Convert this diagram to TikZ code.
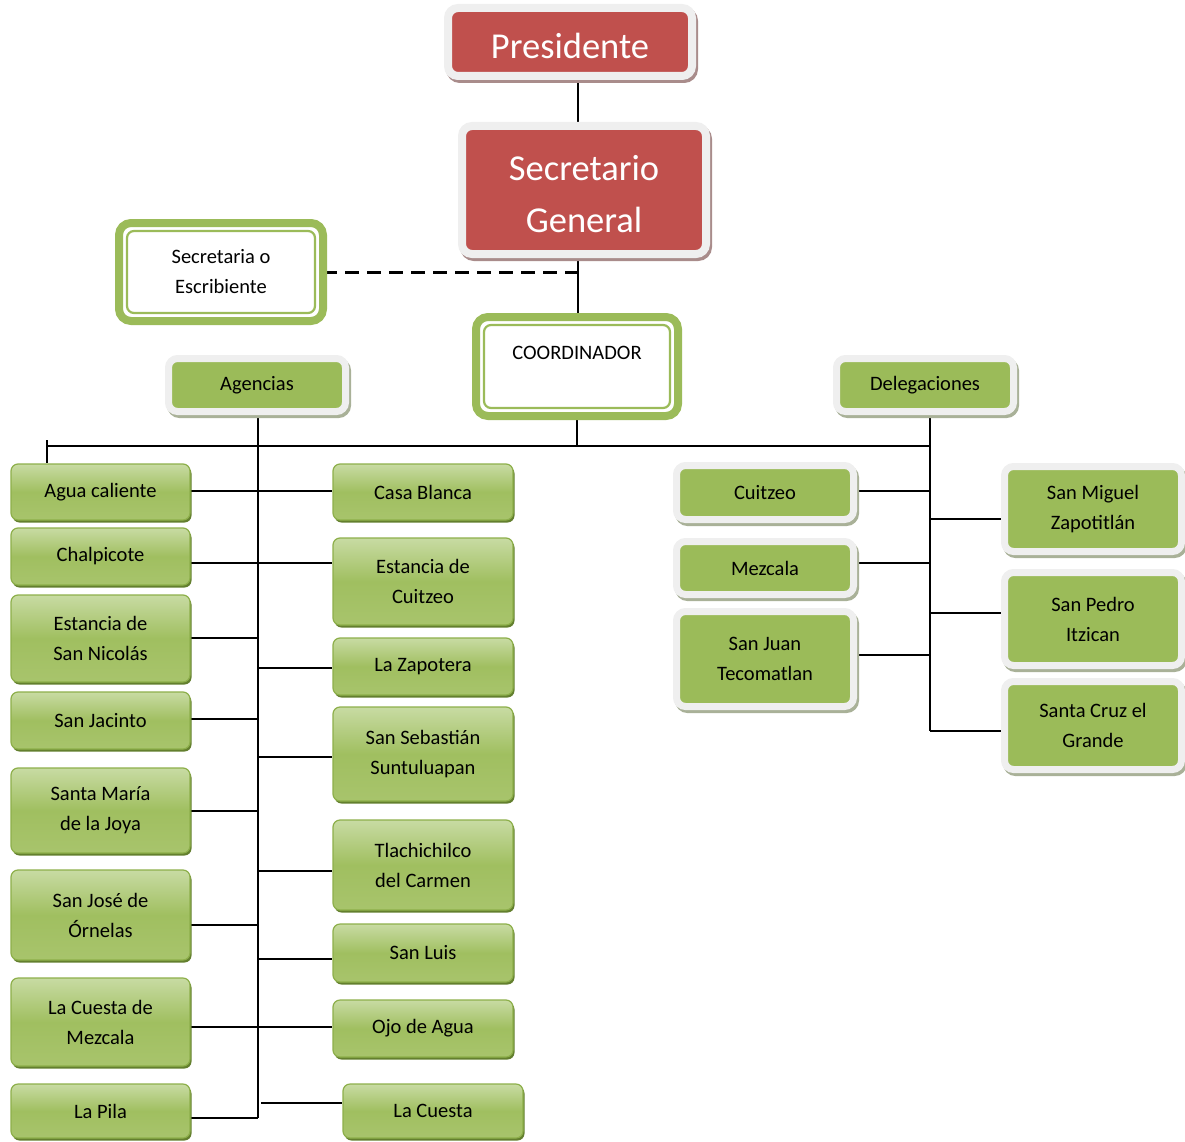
\documentclass[tikz,border=0pt]{standalone}
\usepackage{fontspec}
\setmainfont{Carlito}
\usetikzlibrary{shadows,backgrounds}

\definecolor{redfill}{HTML}{C0504D}
\definecolor{greenfill}{HTML}{9BBB59}
\definecolor{framec}{HTML}{EFEFEF}
\definecolor{rshadow}{HTML}{A98C8B}
\definecolor{lshadow}{HTML}{A9B198}
\definecolor{gtop}{HTML}{C8DBA3}
\definecolor{gmid}{HTML}{A0BF60}
\definecolor{gbot}{HTML}{A8C46C}
\definecolor{gbord}{HTML}{8DAF4A}
\definecolor{gshadow}{HTML}{637F2E}

\newcommand\bodyfont{\fontsize{20.5}{30}\selectfont}
\newcommand\bigfont{\fontsize{36.5}{52}\selectfont}

\tikzset{
  conn/.style={line width=1.5pt, black},
  gbox/.style={rounded corners=7pt, draw=gbord, line width=1.2pt,
    top color=gtop, bottom color=gbot, middle color=gmid,
    drop shadow={shadow xshift=1.5pt, shadow yshift=-2.5pt, fill=gshadow, opacity=1},
    align=center, inner sep=0pt, font=\bodyfont},
  fbox/.style={rounded corners=9pt, fill=greenfill, draw=framec, line width=7pt,
    preaction={draw=lshadow, line width=7pt, transform canvas={xshift=2pt,yshift=-3pt}},
    align=center, inner sep=0pt, font=\bodyfont, minimum width=177pt},
  rbox/.style={rounded corners=10pt, fill=redfill, draw=framec, line width=8pt,
    preaction={draw=rshadow, line width=8pt, transform canvas={xshift=2pt,yshift=-3pt}},
    inner sep=0pt, minimum width=244pt},
  bigtext/.style={align=center, inner sep=0pt, text=white, font=\bigfont},
  dbox/.style={rounded corners=12pt, fill=white, draw=greenfill, line width=8pt,
    outer sep=0pt, align=center, inner sep=0pt, font=\bodyfont},
  innerline/.style={draw=greenfill, line width=2.2pt, rounded corners=7pt},
  lcol/.style={gbox, minimum width=179pt},
  mcol/.style={gbox, minimum width=180pt},
}

\begin{document}
\begin{tikzpicture}[x=1pt,y=-1pt]
\useasboundingbox (0,0) rectangle (1185,1142);

% top of the chart
\node[rbox, minimum height=68pt] (pres) at (570,42) {};
\node[bigtext] (prest) at (570,46) {Presidente};
\node[rbox, minimum height=128pt] (secg) at (584,190) {};
\node[bigtext] (secgt) at (584,194) {Secretario\\General};

\node[dbox, minimum width=204pt, minimum height=98pt] (escr) at (221,272) {Secretaria o\\Escribiente};
\draw[innerline] ([shift={(8pt,8pt)}]escr.south west) rectangle ([shift={(-8pt,-8pt)}]escr.north east);

\node[dbox, minimum width=202pt, minimum height=99pt] (coord) at (577,366.5) {};
\draw[innerline] ([shift={(8pt,8pt)}]coord.south west) rectangle ([shift={(-8pt,-8pt)}]coord.north east);
\node[font=\bodyfont, inner sep=0pt] (coordt) at (577,353) {COORDINADOR};

\node[fbox, minimum height=53pt] (agen) at (257,385) {Agencias};
\node[fbox, minimum height=53pt] (dele) at (925,385) {Delegaciones};

% agencias, left column
\node[lcol, minimum height=56pt] (agua) at (100.5,492) {Agua caliente};
\node[lcol, minimum height=57pt] (chal) at (100.5,556.5) {Chalpicote};
\node[lcol, minimum height=87pt] (esn) at (100.5,638.5) {Estancia de\\San Nicolás};
\node[lcol, minimum height=57pt] (sjac) at (100.5,720.5) {San Jacinto};
\node[lcol, minimum height=85pt] (smar) at (100.5,810.5) {Santa María\\de la Joya};
\node[lcol, minimum height=90pt] (sjos) at (100.5,915) {San José de\\Órnelas};
\node[lcol, minimum height=88pt] (lcm) at (100.5,1022) {La Cuesta de\\Mezcala};
\node[lcol, minimum height=54pt] (pila) at (100.5,1111) {La Pila};

% agencias, middle column
\node[mcol, minimum height=56pt] (casa) at (423,492) {Casa Blanca};
\node[mcol, minimum height=87pt] (ecu) at (423,581.5) {Estancia de\\Cuitzeo};
\node[mcol, minimum height=57pt] (zap) at (423,666.5) {La Zapotera};
\node[mcol, minimum height=94pt] (sseb) at (423,754) {San Sebastián\\Suntuluapan};
\node[mcol, minimum height=90pt] (tla) at (423,865) {Tlachichilco\\del Carmen};
\node[mcol, minimum height=58pt] (sluis) at (423,953) {San Luis};
\node[mcol, minimum height=57pt] (ojo) at (423,1028.5) {Ojo de Agua};
\node[mcol, minimum height=54pt] (lcu) at (433,1111) {La Cuesta};

% delegaciones
\node[fbox, minimum height=54pt] (cuit) at (765,492.5) {Cuitzeo};
\node[fbox, minimum height=53pt] (mezc) at (765,568) {Mezcala};
\node[fbox, minimum height=95pt] (sjua) at (765,659) {San Juan\\Tecomatlan};
\node[fbox, minimum height=85pt] (smig) at (1093,509) {San Miguel\\Zapotitlán};
\node[fbox, minimum height=93pt] (sped) at (1093,619) {San Pedro\\Itzican};
\node[fbox, minimum height=88pt] (scru) at (1093,725.5) {Santa Cruz el\\Grande};

% reference points for the connector lines
\coordinate (mx) at (578,0);
\coordinate (atr) at (258,0);
\coordinate (dtr) at (930,0);
\coordinate (hl) at (47,446);
\coordinate (htop) at (47,440);
\coordinate (hr) at (930,446);
\coordinate (abot) at (258,1118);
\coordinate (cuestaend) at (261,1103);

\begin{pgfonlayer}{background}
  \draw[conn] (pres.south -| mx) -- (secg.north -| mx);
  \draw[conn] (secg.south -| mx) -- (coord.north -| mx);
  \draw[line width=3pt, dash pattern=on 14pt off 8pt] (escr.east) -- (escr.east -| mx);
  \draw[conn] (coord.south) -- (coord.south |- hl);
  \draw[conn] (hl) -- (hr);
  \draw[conn] (htop) -- (agua.north -| htop);
  % agencias trunk and branches
  \draw[conn] (agen.south -| atr) -- (abot);
  \draw[conn] (agua.east |- 0,491) -- (casa.west |- 0,491);
  \draw[conn] (chal.east |- 0,563) -- (ecu.west |- 0,563);
  \draw[conn] (esn.east |- 0,638) -- (atr |- 0,638);
  \draw[conn] (atr |- 0,668) -- (zap.west |- 0,668);
  \draw[conn] (sjac.east |- 0,719) -- (atr |- 0,719);
  \draw[conn] (atr |- 0,757) -- (sseb.west |- 0,757);
  \draw[conn] (smar.east |- 0,811) -- (atr |- 0,811);
  \draw[conn] (atr |- 0,871) -- (tla.west |- 0,871);
  \draw[conn] (sjos.east |- 0,925) -- (atr |- 0,925);
  \draw[conn] (atr |- 0,959) -- (sluis.west |- 0,959);
  \draw[conn] (lcm.east |- 0,1027) -- (ojo.west |- 0,1027);
  \draw[conn] (pila.east |- abot) -- (abot);
  \draw[conn] (cuestaend) -- (lcu.west |- cuestaend);
  % delegaciones trunk and branches
  \draw[conn] (dele.south -| dtr) -- (dtr |- 0,731);
  \draw[conn] (cuit.east |- 0,491) -- (dtr |- 0,491);
  \draw[conn] (mezc.east |- 0,563) -- (dtr |- 0,563);
  \draw[conn] (sjua.east |- 0,655) -- (dtr |- 0,655);
  \draw[conn] (dtr |- 0,519) -- (smig.west |- 0,519);
  \draw[conn] (dtr |- 0,613) -- (sped.west |- 0,613);
  \draw[conn] (dtr |- 0,731) -- (scru.west |- 0,731);
\end{pgfonlayer}
\end{tikzpicture}
\end{document}
